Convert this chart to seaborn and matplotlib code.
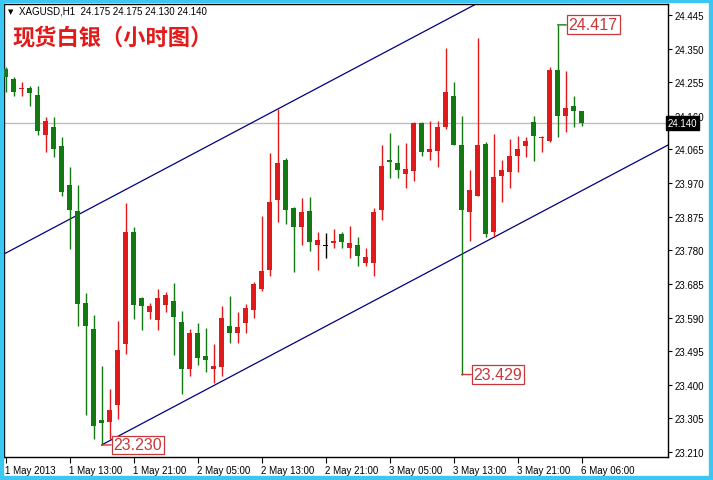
import numpy as np
import pandas as pd
import matplotlib
matplotlib.use("Agg")
import matplotlib.pyplot as plt
import matplotlib.transforms as mtrans
from matplotlib.patches import Rectangle
import seaborn as sns

# ----------------------------------------------------------
# XAGUSD H1 candles (1 May 2013 05:00 -> 6 May 06:00)
# ----------------------------------------------------------
opens = [24.292, 24.264, 24.236, 24.239, 24.219, 24.106, 24.128, 24.075, 23.965, 23.891,
         23.631, 23.558, 23.300, 23.295, 23.343, 23.515, 23.832, 23.645, 23.606, 23.583,
         23.625, 23.637, 23.577, 23.445, 23.546, 23.481, 23.445, 23.450, 23.566, 23.546,
         23.575, 23.611, 23.671, 23.724, 23.922, 24.035, 23.900, 23.846, 23.891, 23.795,
         23.795, 23.801, 23.826, 23.787, 23.795, 23.744, 23.744, 23.894, 24.035, 24.027,
         23.996, 24.004, 24.140, 24.058, 24.061, 24.128, 24.216, 24.078, 23.888, 23.933,
         24.080, 23.832, 23.990, 24.000, 24.047, 24.075, 24.143, 24.097, 24.089, 24.290,
         24.160, 24.188, 24.175]
highs = [24.298, 24.270, 24.256, 24.244, 24.244, 24.157, 24.157, 24.100, 24.015, 23.965,
         23.659, 23.597, 23.453, 23.388, 23.580, 23.914, 23.846, 23.648, 23.631, 23.671,
         23.662, 23.688, 23.609, 23.558, 23.575, 23.560, 23.515, 23.623, 23.651, 23.606,
         23.628, 23.690, 23.877, 24.055, 24.179, 24.041, 23.902, 23.928, 23.931, 23.832,
         23.829, 23.840, 23.832, 23.849, 23.818, 23.787, 23.900, 24.078, 24.112, 24.078,
         24.083, 24.143, 24.143, 24.145, 24.145, 24.352, 24.256, 24.160, 24.007, 24.380,
         24.086, 24.109, 24.035, 24.095, 24.103, 24.100, 24.160, 24.103, 24.298, 24.417,
         24.287, 24.216, 24.175]
lows = [24.227, 24.216, 24.216, 24.188, 24.106, 24.058, 24.044, 23.933, 23.784, 23.566,
        23.315, 23.247, 23.230, 23.247, 23.303, 23.487, 23.586, 23.555, 23.586, 23.555,
        23.606, 23.484, 23.374, 23.425, 23.456, 23.436, 23.405, 23.425, 23.518, 23.518,
        23.546, 23.589, 23.665, 23.707, 23.860, 23.854, 23.719, 23.795, 23.778, 23.724,
        23.758, 23.787, 23.787, 23.758, 23.736, 23.736, 23.707, 23.866, 23.984, 23.984,
        23.956, 23.976, 24.047, 24.035, 24.015, 24.123, 24.078, 23.429, 23.806, 23.933,
        23.818, 23.818, 23.917, 23.956, 24.000, 24.044, 24.032, 24.058, 24.086, 24.100,
        24.114, 24.128, 24.130]
closes = [24.270, 24.227, 24.239, 24.225, 24.117, 24.145, 24.066, 23.945, 23.894, 23.628,
          23.566, 23.284, 23.292, 23.329, 23.498, 23.832, 23.625, 23.623, 23.623, 23.645,
          23.654, 23.592, 23.445, 23.546, 23.476, 23.470, 23.453, 23.589, 23.546, 23.563,
          23.617, 23.685, 23.721, 23.917, 24.027, 23.894, 23.846, 23.888, 23.803, 23.809,
          23.795, 23.806, 23.803, 23.801, 23.764, 23.761, 23.888, 24.018, 24.030, 24.007,
          24.010, 24.140, 24.058, 24.066, 24.128, 24.227, 24.078, 23.894, 23.950, 24.078,
          23.826, 23.987, 24.007, 24.047, 24.066, 24.089, 24.103, 24.100, 24.290, 24.160,
          24.182, 24.174, 24.140]

time_labels = ["1 May 2013", "1 May 13:00", "1 May 21:00", "2 May 05:00", "2 May 13:00",
               "2 May 21:00", "3 May 05:00", "3 May 13:00", "3 May 21:00", "6 May 06:00"]
time_label_bars = [0, 8, 16, 24, 32, 40, 48, 56, 64, 72]
price_ticks = [23.210, 23.305, 23.400, 23.495, 23.590, 23.685, 23.780,
               23.875, 23.970, 24.065, 24.160, 24.255, 24.350, 24.445]

# channel (trend lines) and marked extremes
lower_anchor = (12, 23.230)
upper_anchor = (34, 24.179)
channel_slope = 0.01197
high_marks = [69]
low_marks = [57, 12]

df = pd.DataFrame({"open": opens, "high": highs, "low": lows, "close": closes})
df["bar"] = np.arange(len(df))

RED = "#E0191B"
GREEN = "#137A13"
colors = np.where(df["close"] == df["open"], "black",
                  np.where(df["close"] > df["open"], RED, GREEN))

sns.set_theme(style="white")
plt.rcParams["font.family"] = ["Liberation Sans", "Noto Sans CJK SC", "DejaVu Sans"]

fig = plt.figure(figsize=(7.13, 4.81), dpi=100)
ax = fig.add_axes([4 / 713, 23 / 481, 664 / 713, 453 / 481])

# wicks + bodies
ax.vlines(df["bar"], df["low"], df["high"], colors=colors, lw=1, zorder=3)
body = np.maximum((df["close"] - df["open"]).abs(), 0.0028)
bottom = np.minimum(df["open"], df["close"]) - np.where(df["close"] == df["open"], 0.0014, 0)
ax.bar(df["bar"], body, bottom=bottom, width=0.62, color=colors, linewidth=0, zorder=4)

xmin, xmax = -0.2, 82.8
ymin, ymax = 23.196, 24.476

# current price line
last_close = df["close"].iloc[-1]
ax.axhline(last_close, color="#BDBDBD", lw=1, zorder=1)

# channel lines
xs_up = np.array([xmin, xmax])
ys_up = upper_anchor[1] + channel_slope * (xs_up - upper_anchor[0])
xs_lo = np.array([lower_anchor[0], xmax])
ys_lo = lower_anchor[1] + channel_slope * (xs_lo - lower_anchor[0])
sns.lineplot(x=xs_up, y=ys_up, ax=ax, color="#000080", lw=0.9, zorder=2)
sns.lineplot(x=xs_lo, y=ys_lo, ax=ax, color="#000080", lw=0.9, zorder=2)

# high / low labels
box = dict(boxstyle="square,pad=0.12", fc="white", ec="#C8383A", lw=0.9)
for b in high_marks:
    v = df["high"].iloc[b]
    ax.annotate(f"{v:.3f}", xy=(b, v), xytext=(11, 0), textcoords="offset pixels",
                ha="left", va="center", fontsize=11.5, color="#C8383A", bbox=box,
                arrowprops=dict(arrowstyle="-", color=GREEN, lw=1, shrinkA=0, shrinkB=0),
                zorder=6)
for b in low_marks:
    v = df["low"].iloc[b]
    ax.annotate(f"{v:.3f}", xy=(b, v), xytext=(12, 0), textcoords="offset pixels",
                ha="left", va="center", fontsize=11.5, color="#C8383A", bbox=box,
                arrowprops=dict(arrowstyle="-", color="#C8383A", lw=1, shrinkA=0, shrinkB=0),
                zorder=6)

ax.set_xlim(xmin, xmax)
ax.set_ylim(ymin, ymax)

ax.yaxis.tick_right()
ax.set_yticks(price_ticks)
ax.set_yticklabels([f"{t:.3f}" for t in price_ticks])
ax.set_xticks(time_label_bars)
ax.set_xticklabels(time_labels, ha="left")
ax.tick_params(axis="y", direction="out", length=3, width=0.8, pad=2,
               labelsize=7, colors="black", right=True, left=False)
ax.tick_params(axis="x", direction="out", length=4, width=0.8, pad=2,
               labelsize=7, colors="black", bottom=True)
for lab in ax.get_xticklabels():
    lab.set_transform(lab.get_transform() + mtrans.ScaledTranslation(-1 / 100, 0, fig.dpi_scale_trans))
for sp in ax.spines.values():
    sp.set_color("black")
    sp.set_linewidth(1)

# current price tag
ax.text(1.0, last_close, f"{last_close:.3f}", transform=mtrans.blended_transform_factory(ax.transAxes, ax.transData),
        ha="left", va="center", fontsize=7, color="white",
        bbox=dict(boxstyle="square,pad=0.2", fc="black", ec="black"), zorder=7, clip_on=False)

# headers
o, h, l, c = df[["open", "high", "low", "close"]].iloc[-1]
fig.text(8 / 713, 1 - 12 / 481, "\u25bc", fontsize=5, va="center", color="black",
         family=["DejaVu Sans"])
fig.text(19 / 713, 1 - 12 / 481, f"XAGUSD,H1  {o:.3f} {h:.3f} {l:.3f} {c:.3f}",
         fontsize=7, va="center", color="black")
fig.text(12 / 713, 1 - 38 / 481, "现货白银（小时图）", fontsize=16, fontweight="bold",
         va="center", color="#E21A1A", family=["Noto Sans CJK SC", "DejaVu Sans"])

# window frame
fig.patches.append(Rectangle((0, 0), 1, 1, transform=fig.transFigure, fill=False,
                             ec="#3CC6F2", lw=6))

fig.savefig("out.png", dpi=100)
